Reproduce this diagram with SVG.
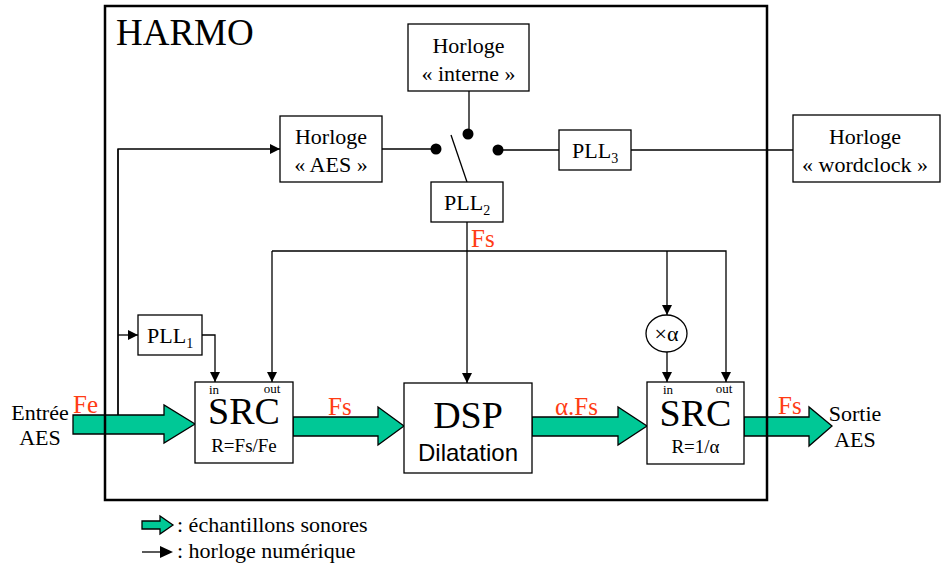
<svg xmlns="http://www.w3.org/2000/svg" width="941" height="567" viewBox="0 0 941 567" font-family="'Liberation Serif', 'Times New Roman', serif">
<style>
text{font-family:"Liberation Serif","Times New Roman",serif;fill:#000}
.box{fill:#fff;stroke:#000;stroke-width:1.3}
.ln{fill:none;stroke:#000;stroke-width:1.3}
.t{font-size:22px;text-anchor:middle}
.pll{font-size:22px}
.sub{font-size:14px}
.sm{font-size:13px;text-anchor:middle}
.big{font-size:38px;text-anchor:middle}
.red{fill:#ff3c14;font-size:25px}
.ga{fill:#00c896;stroke:#000;stroke-width:1.3}
</style>
<defs>
<marker id="ah" markerWidth="10" markerHeight="10" refX="10" refY="5" orient="auto" markerUnits="userSpaceOnUse">
<path d="M0,0 L10,5 L0,10 Z" fill="#000"/>
</marker>
</defs>

<g id="frame">
<rect x="105" y="6" width="662" height="494" fill="none" stroke="#000" stroke-width="2.5"/>
<text x="116" y="45" font-size="37">HARMO</text>
</g>

<g id="connectors">
<line class="ln" x1="469" y1="91" x2="469" y2="134"/>
<line class="ln" x1="451" y1="135" x2="467" y2="182"/>
<circle cx="468" cy="134" r="5.5" fill="#000"/>
<circle cx="436" cy="149" r="5.5" fill="#000"/>
<circle cx="498" cy="150" r="5.5" fill="#000"/>
<line class="ln" x1="382" y1="149" x2="436" y2="149"/>
<line class="ln" x1="498" y1="150" x2="559" y2="150"/>
<line class="ln" x1="631" y1="150" x2="793" y2="150"/>
<path class="ln" d="M118,415 V149 H280" marker-end="url(#ah)"/>
<path class="ln" d="M118,335 H138" marker-end="url(#ah)"/>
<path class="ln" d="M202,335 H215 V382" marker-end="url(#ah)"/>
<line class="ln" x1="467" y1="222" x2="467" y2="251"/>
<path class="ln" d="M272,251 H726 V382" marker-end="url(#ah)"/>
<path class="ln" d="M272,251 V382" marker-end="url(#ah)"/>
<path class="ln" d="M467,251 V383" marker-end="url(#ah)"/>
<path class="ln" d="M667,251 V315" marker-end="url(#ah)"/>
<path class="ln" d="M667,352 V382" marker-end="url(#ah)"/>
<path class="ga" d="M73,415 H164 V405 L195,424 L164,443 V434 H73 Z"/>
<path class="ga" d="M293,417 H378 V407 L404,426 L378,445 V436 H293 Z"/>
<path class="ga" d="M532,417 H618 V407 L647,426 L618,445 V436 H532 Z"/>
<path class="ga" d="M744,417 H809 V407 L832,426 L809,446 V436 H744 Z"/>
<line x1="118" y1="149" x2="118" y2="415" stroke="#000" stroke-width="1.3"/>
<line x1="767" y1="417" x2="767" y2="436" stroke="#000" stroke-width="2.5"/>
<line x1="105" y1="415" x2="105" y2="434" stroke="#000" stroke-width="2.5"/>
</g>

<g id="interne">
<rect class="box" x="408" y="24" width="121" height="67"/>
<text class="t" x="468.5" y="53">Horloge</text>
<text class="t" x="468.5" y="81">« interne »</text>
</g>

<g id="aes">
<rect class="box" x="280" y="116" width="102" height="66"/>
<text class="t" x="331" y="144">Horloge</text>
<text class="t" x="331" y="172">« AES »</text>
</g>

<g id="wordclock">
<rect class="box" x="793" y="115" width="147" height="67"/>
<text class="t" x="865" y="144">Horloge</text>
<text class="t" x="865" y="172">« wordclock »</text>
</g>

<g id="pll2">
<rect class="box" x="431" y="182" width="72" height="40"/>
<text class="pll" x="444" y="210">PLL<tspan class="sub" dy="5">2</tspan></text>
</g>

<g id="pll3">
<rect class="box" x="559" y="130" width="72" height="40"/>
<text class="pll" x="572" y="158">PLL<tspan class="sub" dy="5">3</tspan></text>
</g>

<g id="pll1">
<rect class="box" x="138" y="315" width="64" height="40"/>
<text class="pll" x="147" y="343">PLL<tspan class="sub" dy="5">1</tspan></text>
</g>

<g id="times-alpha">
<ellipse cx="666.5" cy="333.5" rx="20.5" ry="18.5" class="box"/>
<text class="t" x="666.5" y="341">×α</text>
</g>

<g id="src1">
<rect class="box" x="195" y="382" width="98" height="81"/>
<text class="sm" x="214" y="394">in</text>
<text class="sm" x="272" y="393">out</text>
<text class="big" x="244" y="424">SRC</text>
<text x="244" y="452" font-size="19" text-anchor="middle">R=Fs/Fe</text>
</g>

<g id="dsp">
<rect class="box" x="404" y="383" width="128" height="90"/>
<text class="big" x="468" y="428">DSP</text>
<text x="468" y="461" font-size="24" text-anchor="middle" style="font-family:'Liberation Sans',Arial,sans-serif">Dilatation</text>
</g>

<g id="src2">
<rect class="box" x="647" y="382" width="97" height="82"/>
<text class="sm" x="668" y="394">in</text>
<text class="sm" x="724" y="393">out</text>
<text class="big" x="695.5" y="426">SRC</text>
<text x="695.5" y="453" font-size="19" text-anchor="middle">R=1/α</text>
</g>

<g id="labels">
<text class="red" x="471" y="247">Fs</text>
<text class="red" x="73" y="413" font-size="26">Fe</text>
<text class="red" x="328" y="415">Fs</text>
<text class="red" x="555" y="415">α.Fs</text>
<text class="red" x="778" y="414">Fs</text>
<text class="t" x="40" y="420">Entrée</text>
<text class="t" x="40" y="445">AES</text>
<text class="t" x="855" y="421">Sortie</text>
<text class="t" x="855" y="447">AES</text>
</g>

<g id="legend">
<path class="ga" d="M142,521 H160 V516 L173,525 L160,534 V529 H142 Z"/>
<text x="177" y="532" font-size="22">: échantillons sonores</text>
<line x1="142" y1="552" x2="160" y2="552" stroke="#000" stroke-width="1.3"/>
<path d="M160,546 L173,552 L160,558 Z" fill="#000"/>
<text x="177" y="558" font-size="22">: horloge numérique</text>
</g>
</svg>
